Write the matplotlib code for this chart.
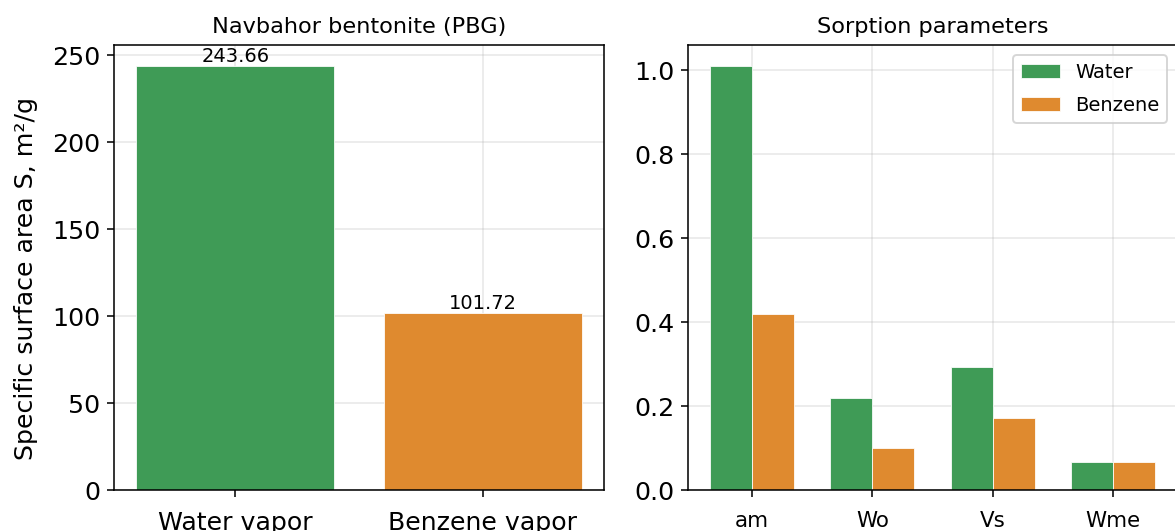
import numpy as np
import matplotlib.pyplot as plt

# surface area data (left panel)
surface_labels = ['Water vapor', 'Benzene vapor']
surface_values = [243.66, 101.72]

# sorption parameters (right panel)
param_labels = ['am', 'Wo', 'Vs', 'Wme']
water_params = [1.01, 0.22, 0.293, 0.067]
benzene_params = [0.42, 0.10, 0.172, 0.067]

green = '#3f9b56'
orange = '#df8a2f'

dpi = 140
fig = plt.figure(figsize=(1175 / dpi, 531 / dpi), dpi=dpi)

W, H = 1175, 531
bottom = (H - 490) / H
height = (490 - 45) / H
ax1 = fig.add_axes([114 / W, bottom, 490 / W, height])
ax2 = fig.add_axes([688 / W, bottom, 489 / W, height])

# left panel: specific surface area
bars = ax1.bar(surface_labels, surface_values, width=0.8,
               color=[green, orange], edgecolor='white', linewidth=0.4)
ax1.bar_label(bars, labels=[f'{v:.2f}' for v in surface_values], fontsize=10)
ax1.set_title('Navbahor bentonite (PBG)', fontsize=11.5)
ax1.set_ylabel('Specific surface area S, m²/g', fontsize=13)
ax1.yaxis.set_label_coords(-0.155, 0.476)
ax1.tick_params(axis='both', labelsize=13)
ax1.tick_params(axis='x', pad=7.5)
ax1.grid(alpha=0.3)
ax1.set_axisbelow(True)

# right panel: sorption parameters
x = np.arange(len(param_labels))
w = 0.35
ax2.bar(x - w / 2, water_params, w, color=green, label='Water',
        edgecolor='white', linewidth=0.4)
ax2.bar(x + w / 2, benzene_params, w, color=orange, label='Benzene',
        edgecolor='white', linewidth=0.4)
ax2.set_xticks(x)
ax2.set_xticklabels(param_labels)
ax2.set_title('Sorption parameters', fontsize=11.5)
ax2.tick_params(axis='y', labelsize=13)
ax2.tick_params(axis='x', labelsize=11, pad=7.5)
ax2.legend(fontsize=10, loc='upper right', labelspacing=0.75)
ax2.grid(alpha=0.3)
ax2.set_axisbelow(True)

fig.savefig('out.png', dpi=dpi)
